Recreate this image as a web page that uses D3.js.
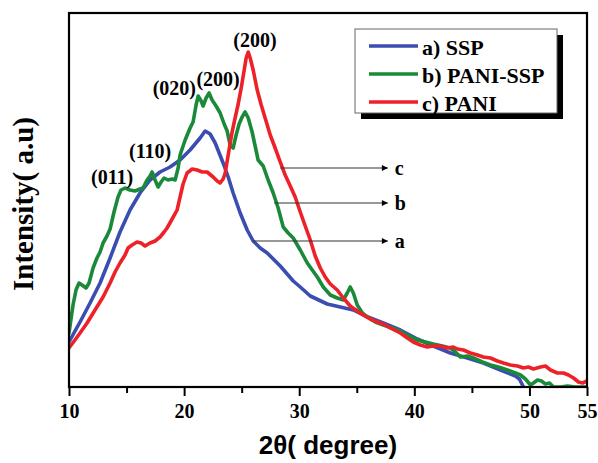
<!DOCTYPE html>
<html>
<head>
<meta charset="utf-8">
<script src="https://cdn.jsdelivr.net/npm/d3@7"></script>
<style>
  html, body { margin: 0; padding: 0; background: #fff; }
  svg { display: block; }
</style>
</head>
<body>
<svg id="chart" width="598" height="463"></svg>
<script>
// ---- data (2θ in degrees, intensity in arbitrary units) ----
const xTicksMajor = [10, 20, 30, 40, 50, 55];
const xTicksMinor = [15, 25, 35, 45];
const seriesNames = ["a) SSP", "b) PANI-SSP", "c) PANI"];
const seriesColors = ["#3a4db0", "#1a8a3a", "#ee2128"];

const ssp = [
  [10.0,45],[10.96,65],[11.83,84],[12.70,104],[13.57,129],[14.43,155],[15.30,177],
  [16.17,194],[17.04,207],[17.91,215],[18.78,220],[19.65,227],[20.52,237],[21.39,249],
  [21.83,256],[22.26,253],[22.70,244],[23.39,224],[23.83,210],[24.26,194],[24.87,174],
  [25.48,157],[26.0,146],[26.61,139],[27.22,134],[28.35,121],[29.48,106],[30.09,100],
  [30.96,91],[32.43,83],[33.57,80],[34.70,77],[35.74,71],[37.30,64],[38.78,57],
  [40.26,48],[41.65,41],[43.13,34],[44.61,29],[46.0,24],[47.48,17],[48.78,11],
  [49.13,8],[49.48,0]
];

const paniSsp = [
  [10.0,54],[10.35,82],[10.61,97],[10.87,104],[11.13,102],[11.48,99],[11.74,104],
  [12.09,119],[12.43,129],[12.70,135],[12.96,144],[13.30,151],[13.57,158],[13.91,175],
  [14.26,190],[14.52,197],[14.87,199],[15.30,197],[15.74,196],[16.17,198],[16.43,199],
  [16.78,207],[17.04,211],[17.22,215],[17.48,207],[17.74,200],[18.0,205],[18.26,209],
  [18.61,207],[18.96,208],[19.22,207],[19.48,219],[19.65,232],[20.09,247],[20.52,259],
  [20.78,265],[21.04,282],[21.22,291],[21.48,286],[21.65,281],[21.91,289],[22.17,294],
  [22.43,287],[22.78,281],[23.13,274],[23.48,263],[23.74,256],[24.0,242],[24.26,239],
  [24.52,252],[24.78,263],[25.04,270],[25.30,275],[25.57,269],[25.91,255],[26.17,241],
  [26.43,227],[26.87,221],[27.30,207],[27.74,194],[28.17,179],[28.61,160],[29.04,154],
  [29.48,149],[30.09,137],[30.70,124],[31.13,117],[31.57,110],[32.09,100],[32.70,92],
  [33.30,89],[33.83,87],[34.17,94],[34.43,100],[34.70,94],[35.04,82],[35.48,74],
  [35.91,70],[36.61,65],[37.30,62],[38.09,59],[38.78,56],[39.48,51],[40.26,47],
  [40.96,45],[41.65,43],[42.43,41],[43.13,39],[43.57,35],[44.0,30],[44.61,31],
  [45.13,29],[45.91,25],[46.61,22],[47.30,20],[48.09,17],[48.78,14],[49.22,12],
  [49.65,8],[50.09,2],[50.35,4],[50.70,7],[51.04,6],[51.39,3],[51.74,4],[52.09,0],
  [52.70,0],[53.30,1],[54.0,0],[55.0,0]
];

const pani = [
  [10.0,39],[10.52,47],[10.96,54],[11.57,64],[12.26,77],[12.96,90],[13.57,104],
  [14.0,115],[14.43,124],[14.87,132],[15.13,139],[15.48,142],[15.91,145],[16.26,144],
  [16.61,141],[17.04,144],[17.48,146],[17.91,150],[18.26,155],[18.52,159],[18.96,168],
  [19.39,177],[19.65,190],[19.91,203],[20.26,214],[20.70,218],[21.13,217],[21.57,215],
  [22.0,215],[22.52,210],[22.87,206],[23.13,204],[23.39,208],[23.57,214],[23.83,232],
  [24.17,255],[24.43,269],[24.70,283],[24.96,299],[25.22,317],[25.39,329],[25.57,335],
  [25.74,329],[26.0,317],[26.35,297],[26.70,282],[27.04,269],[27.48,252],[27.91,239],
  [28.35,225],[28.78,212],[29.22,201],[29.65,190],[30.09,175],[30.52,161],[30.96,147],
  [31.39,131],[31.83,119],[32.26,110],[32.70,103],[33.30,97],[33.83,89],[34.43,81],
  [35.04,76],[35.57,72],[36.17,68],[36.78,65],[37.30,63],[37.91,59],[38.78,54],
  [39.39,49],[39.91,45],[40.52,42],[41.13,40],[41.65,41],[42.26,41],[42.87,39],
  [43.39,40],[43.74,38],[44.26,37],[44.87,34],[45.48,32],[46.0,30],[46.61,29],
  [47.22,26],[47.74,24],[48.35,22],[48.96,21],[49.48,19],[49.91,20],[50.35,18],
  [50.96,20],[51.39,21],[51.83,17],[52.43,14],[52.96,14],[53.39,12],[53.83,9],
  [54.26,5],[54.61,4],[55.0,6]
];

// peak labels: [2θ, intensity at label baseline, text]
const peakLabels = [
  [26.15, 340, "(200)"],
  [19.15, 292, "(020)"],
  [22.95, 301, "(200)"],
  [17.05, 229, "(110)"],
  [13.75, 203, "(011)"]
];
// annotation arrows: [start 2θ, intensity, end 2θ, label]
const arrows = [
  [28.35, 219, 37.7, "c"],
  [27.83, 184, 37.7, "b"],
  [26.0, 146, 37.7, "a"]
];

// ---- layout ----
const svg = d3.select("#chart");
const L = 69, R = 587, T = 13, B = 387;
const x = d3.scaleLinear().domain([10, 55]).range([L, R]);
const y = d3.scaleLinear().domain([0, 374]).range([B, T]);
const serif = "'Liberation Serif','Times New Roman',serif";
const sans = "'Liberation Sans',Arial,sans-serif";

svg.append("defs").append("clipPath").attr("id", "clip")
  .append("rect").attr("x", L).attr("y", T).attr("width", R - L).attr("height", B - T);

// curves
const line = d3.line().x(d => x(d[0])).y(d => y(d[1]));
const data = [ssp, paniSsp, pani];
const g = svg.append("g").attr("clip-path", "url(#clip)");
data.forEach((s, i) => {
  g.append("path").datum(s).attr("d", line)
    .attr("fill", "none").attr("stroke", seriesColors[i])
    .attr("stroke-width", 3.6).attr("stroke-linejoin", "round").attr("stroke-linecap", "round");
});

// frame
svg.append("rect").attr("x", L).attr("y", T).attr("width", R - L).attr("height", B - T)
  .attr("fill", "none").attr("stroke", "#000").attr("stroke-width", 2.2);

// x axis
const xAxis = d3.axisBottom(x).tickValues(xTicksMajor).tickSize(9).tickPadding(8)
  .tickFormat(d3.format("d"));
const ax = svg.append("g").attr("transform", `translate(0,${B})`).call(xAxis);
ax.select(".domain").remove();
ax.selectAll(".tick line").attr("stroke", "#000").attr("stroke-width", 2);
ax.selectAll(".tick text").attr("font-family", serif).attr("font-weight", "bold")
  .attr("font-size", 20).attr("fill", "#000").attr("dy", "0.71em");
const axm = svg.append("g").attr("transform", `translate(0,${B})`)
  .call(d3.axisBottom(x).tickValues(xTicksMinor).tickSize(6).tickFormat(""));
axm.select(".domain").remove();
axm.selectAll(".tick line").attr("stroke", "#000").attr("stroke-width", 2);

// axis titles
svg.append("text").attr("x", (L + R) / 2).attr("y", 454).attr("text-anchor", "middle")
  .attr("font-family", sans).attr("font-weight", "bold").attr("font-size", 26)
  .attr("fill", "#000").text("2θ( degree)");
svg.append("text").attr("transform", "translate(33,204) rotate(-90)")
  .attr("text-anchor", "middle").attr("font-family", serif).attr("font-weight", "bold")
  .attr("font-size", 29).attr("fill", "#000").text("Intensity( a.u)");

// peak labels
svg.append("g").selectAll("text").data(peakLabels).join("text")
  .attr("x", d => x(d[0])).attr("y", d => y(d[1])).attr("text-anchor", "middle")
  .attr("font-family", serif).attr("font-weight", "bold").attr("font-size", 20)
  .attr("fill", "#000").text(d => d[2]);

// arrows
svg.select("defs").append("marker").attr("id", "arr").attr("viewBox", "0 0 10 10")
  .attr("refX", 10).attr("refY", 5).attr("markerWidth", 10).attr("markerHeight", 6)
  .attr("markerUnits", "userSpaceOnUse").attr("orient", "auto")
  .append("path").attr("d", "M0,0L10,5L0,10Z").attr("fill", "#000");
const ag = svg.append("g");
arrows.forEach(a => {
  ag.append("line").attr("x1", x(a[0])).attr("x2", x(a[2]))
    .attr("y1", y(a[1])).attr("y2", y(a[1]))
    .attr("stroke", "#333").attr("stroke-width", 1.2).attr("marker-end", "url(#arr)");
  ag.append("text").attr("x", x(a[2]) + 7).attr("y", y(a[1]) + 7)
    .attr("font-family", serif).attr("font-weight", "bold").attr("font-size", 20)
    .attr("fill", "#000").text(a[3]);
});

// legend
const lg = svg.append("g");
lg.append("rect").attr("x", 361).attr("y", 35).attr("width", 202).attr("height", 84).attr("fill", "#000");
lg.append("rect").attr("x", 355).attr("y", 29).attr("width", 202).attr("height", 84)
  .attr("fill", "#fff").attr("stroke", "#666").attr("stroke-width", 1);
seriesNames.forEach((n, i) => {
  const yy = 46 + i * 28;
  lg.append("line").attr("x1", 369).attr("x2", 418).attr("y1", yy).attr("y2", yy)
    .attr("stroke", seriesColors[i]).attr("stroke-width", 3.6);
  lg.append("text").attr("x", 422).attr("y", yy + 8.5)
    .attr("font-family", serif).attr("font-weight", "bold").attr("font-size", 22)
    .attr("fill", "#000").text(n);
});
</script>
</body>
</html>
